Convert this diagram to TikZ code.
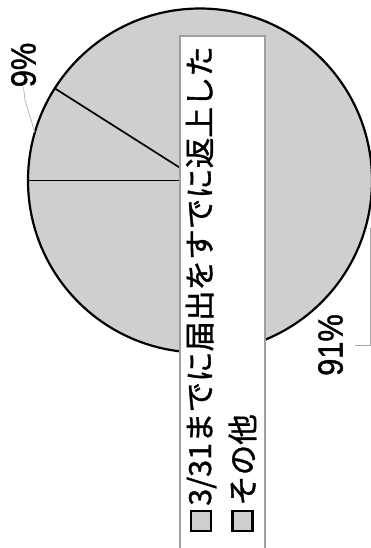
\documentclass[tikz,border=0pt]{standalone}
\usepackage{fontspec}
\newfontfamily\jpfont[FakeBold=1.2]{Noto Sans CJK JP}
\newfontfamily\pctfont[FakeStretch=0.88, FakeBold=1.2]{Liberation Sans}
\begin{document}
\begin{tikzpicture}%
	[x=1pt, y=-1pt,
	rim/.style={draw=black, line width=2.2pt, fill=gray!38},
	slice/.style={draw=black, line width=1.7pt},
	leader/.style={draw=gray!70, line width=0.6pt},
	legbox/.style={draw=gray!75, line width=1.3pt, fill=white},
	legmark/.style={draw=black, line width=2.2pt, fill=gray!38, minimum size=20pt, inner sep=0pt},
	legtext/.style={font=\jpfont\fontsize{30.5}{36}\selectfont, inner sep=4pt, rotate=90, anchor=west},
	pct/.style={font=\pctfont\fontsize{35}{40}\selectfont, inner sep=0pt, rotate=90}]
%
\useasboundingbox (0,0) rectangle (371,548);
%%
%% Coordinates of the pie
%%
\coordinate (c) at (200,180.5);
\path (c) ++(180:172) coordinate (s0);
\path (c) ++(212.4:172) coordinate (s9);
\path (c) ++(196.2:172) coordinate (m9);
\coordinate (m91) at (370,228);
%%
%% Drawing the pie
%%
\path[rim] (c) circle (172pt);
\draw[slice] (c) -- (s0);
\draw[slice] (c) -- (s9);
%%
%% Drawing the labels
%%
\node[pct] (p9) at (23.5,65) {9\%};
\node[pct] (p91) at (330.5,345) {91\%};
\draw[leader] (m9) -- (25,100) -- (p9.west);
\draw[leader] (m91) |- ([xshift=12pt]p91.south);
%%
%% Drawing the legend
%%
\path[legbox] (180,36) rectangle (265,560);
\node[legmark] (mkA) at (201,521) {};
\node[legmark] (mkB) at (242.5,521) {};
\node[legtext] (txA) at (mkA.north) {3/31までに届出をすでに返上した};
\node[legtext] (txB) at (mkB.north) {その他};
%%
\end{tikzpicture}
\end{document}
